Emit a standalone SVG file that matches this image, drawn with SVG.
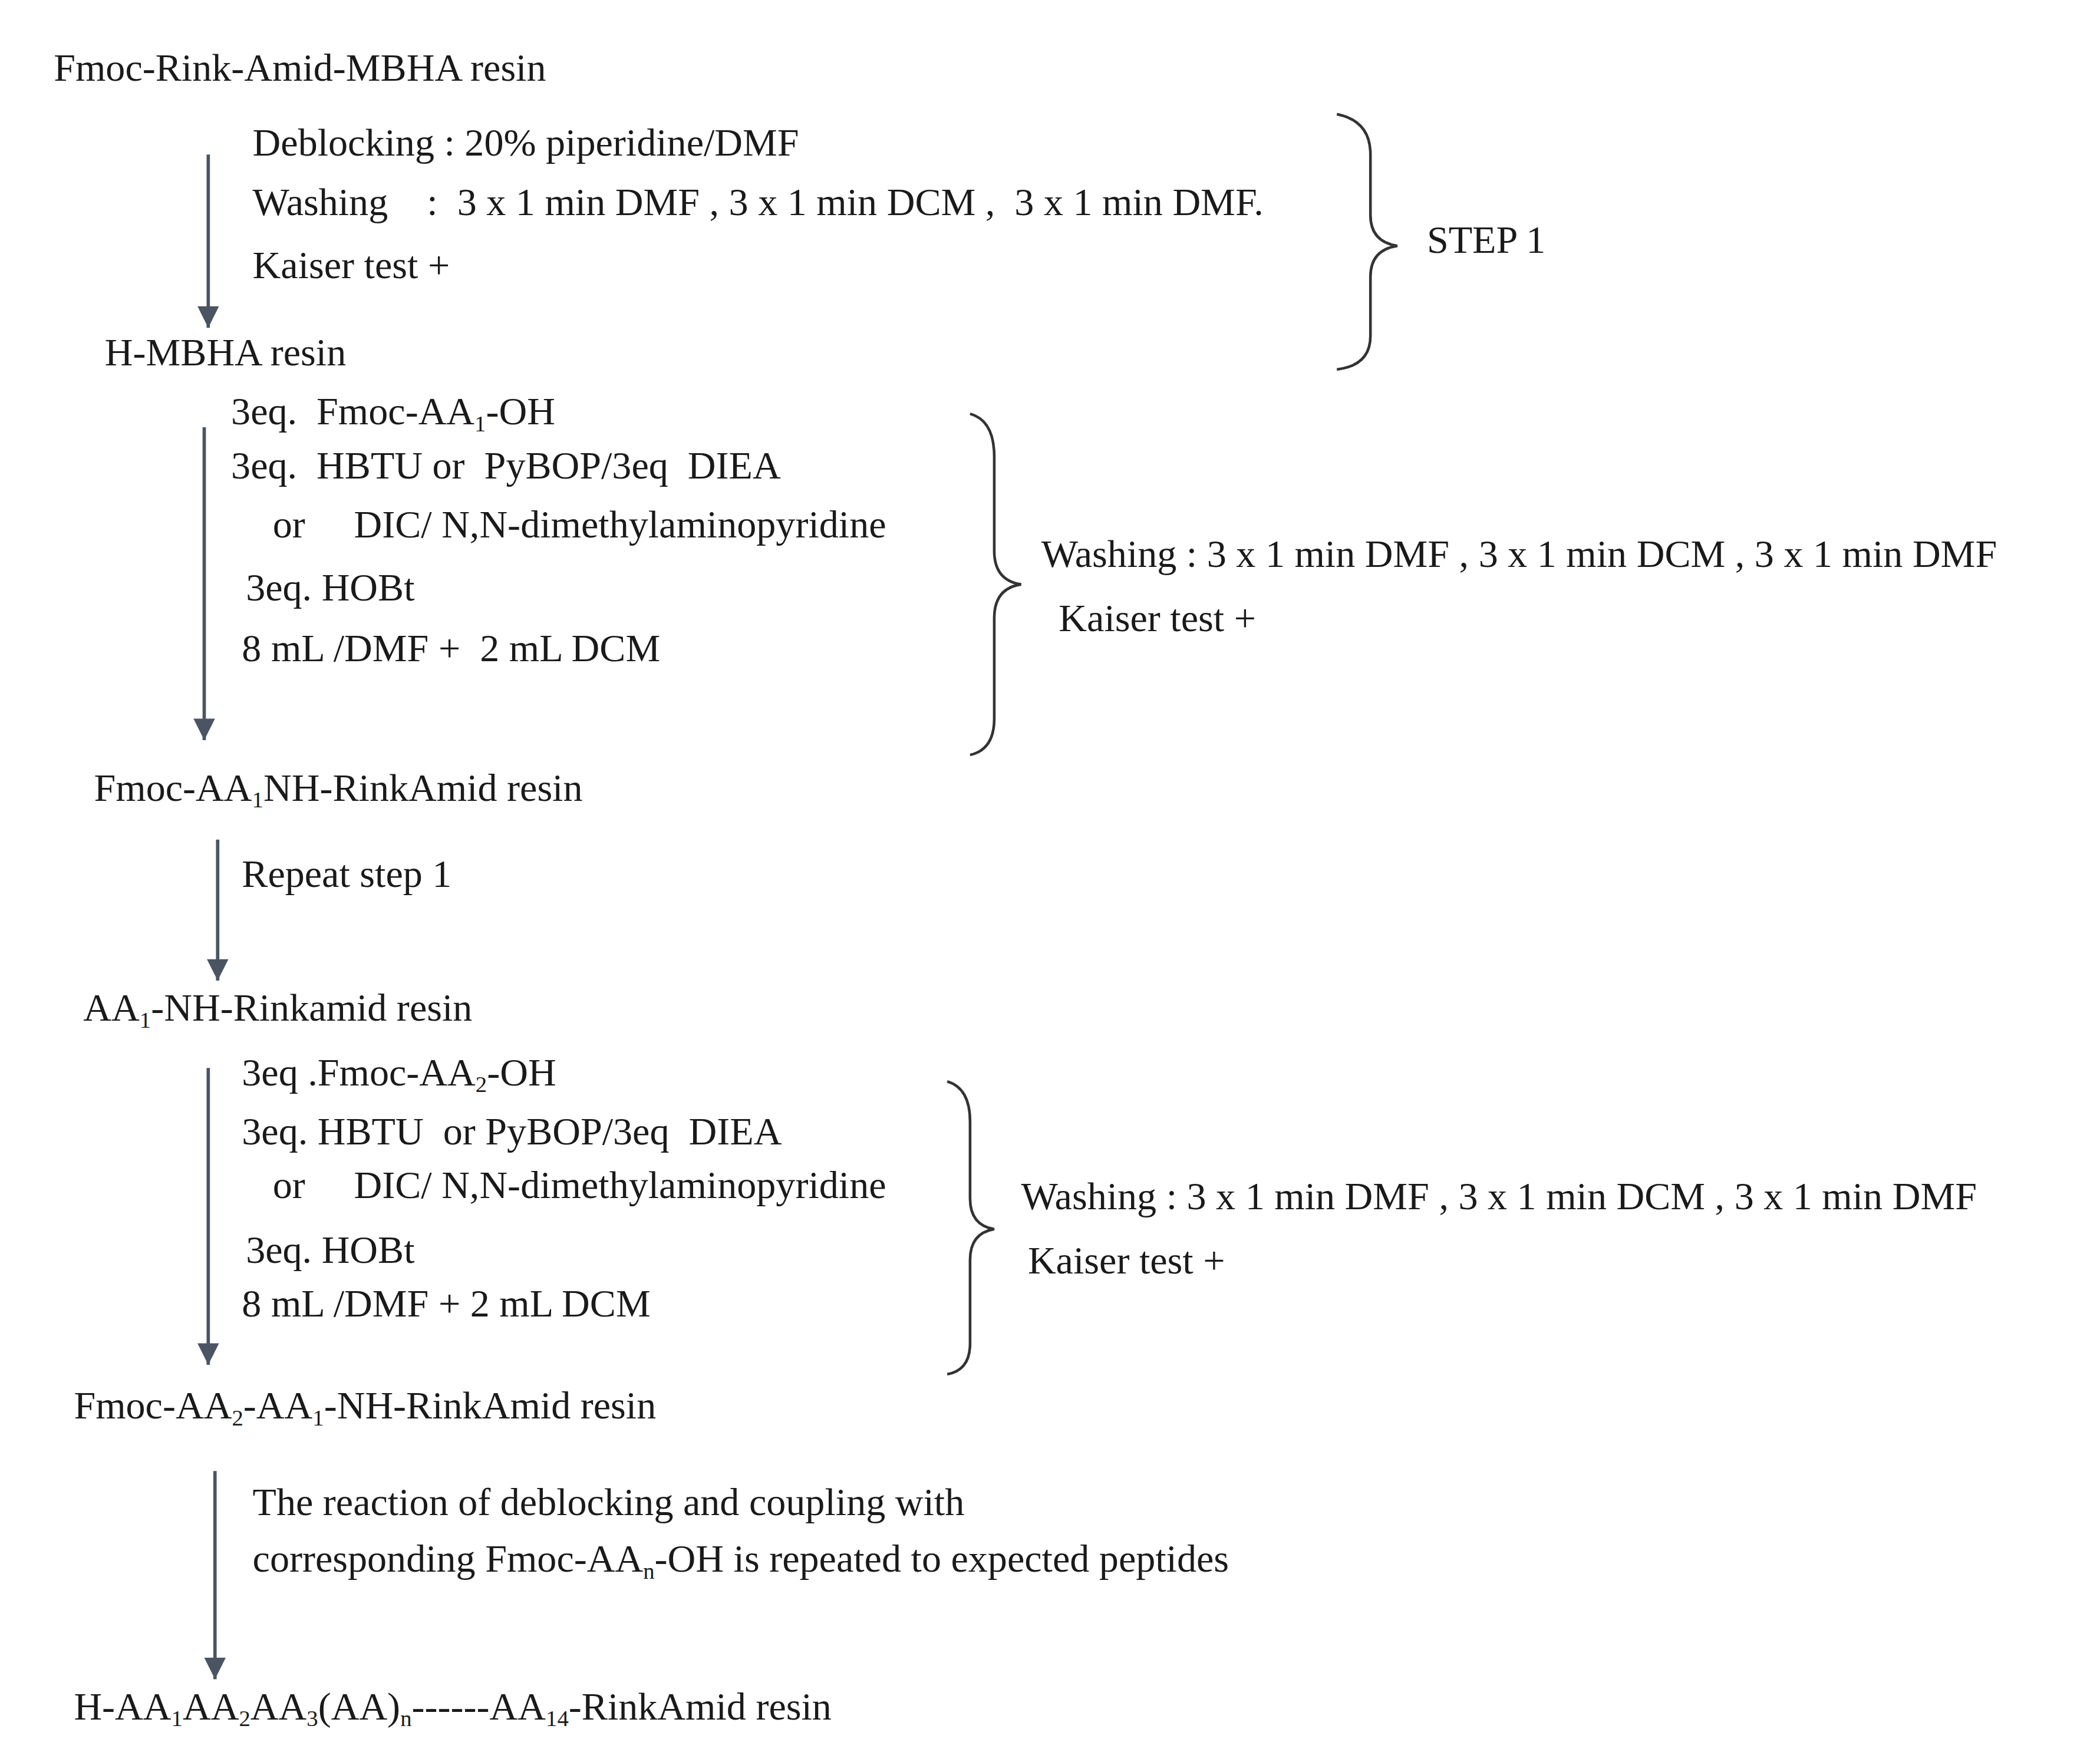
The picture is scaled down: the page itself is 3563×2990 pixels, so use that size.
<svg xmlns="http://www.w3.org/2000/svg" width="3563" height="2990" viewBox="0 0 3563 2990">
<defs>
<style>
text{font-family:"Liberation Serif","Times New Roman",serif;font-size:29px;fill:#1a1a1a}
.s{font-size:17px}
.ar{stroke:#4a5463;stroke-width:2.5;fill:none}
.br{stroke:#333;stroke-width:2;fill:none}
</style>
<marker id="ah" viewBox="0 0 10 10" refX="9" refY="5" markerWidth="6" markerHeight="7" orient="auto" markerUnits="userSpaceOnUse">
<path d="M0,0 L10,5 L0,10 z" fill="#4a5463" transform="scale(1)"/>
</marker>
<marker id="a2" viewBox="0 0 10 10" refX="10" refY="5" markerWidth="18" markerHeight="16" orient="auto" markerUnits="userSpaceOnUse">
<path d="M0,0 L10,5 L0,10 z" fill="#4a5463"/>
</marker>
</defs>
<rect width="3563" height="2990" fill="#fff"/>
<g transform="scale(2.2796)">
<g id="connectors">
<line class="ar" x1="155" y1="115" x2="155" y2="244" marker-end="url(#a2)"/>
<line class="ar" x1="152" y1="318" x2="152" y2="551" marker-end="url(#a2)"/>
<line class="ar" x1="162" y1="625" x2="162" y2="730" marker-end="url(#a2)"/>
<line class="ar" x1="155" y1="795" x2="155" y2="1016" marker-end="url(#a2)"/>
<line class="ar" x1="160" y1="1095" x2="160" y2="1250" marker-end="url(#a2)"/>
<path class="br" d="M995,85 Q1020,90 1020,115 L1020,160 Q1020,180 1040,183 Q1020,186 1020,206 L1020,250 Q1020,272 995,275"/>
<path class="br" d="M722,308 Q740,313 740,340 L740,410 Q740,432 760,435 Q740,438 740,460 L740,535 Q740,558 722,562"/>
<path class="br" d="M705,805 Q722,810 722,835 L722,892 Q722,912 740,915 Q722,918 722,938 L722,1000 Q722,1020 705,1023"/>
</g>
<g id="n1"><text x="40" y="60">Fmoc-Rink-Amid-MBHA resin</text></g>
<g id="step1">
<text x="188" y="116">Deblocking : 20% piperidine/DMF</text>
<text x="188" y="160" xml:space="preserve">Washing    :  3 x 1 min DMF , 3 x 1 min DCM ,  3 x 1 min DMF.</text>
<text x="188" y="207">Kaiser test  +</text>
<text x="1062" y="188">STEP 1</text>
</g>
<g id="n2"><text x="78" y="272">H-MBHA resin</text></g>
<g id="coupling1">
<text x="172" y="316" xml:space="preserve">3eq.  Fmoc-AA<tspan class="s" dy="5">1</tspan><tspan dy="-5">-OH</tspan></text>
<text x="172" y="356" xml:space="preserve">3eq.  HBTU or  PyBOP/3eq  DIEA</text>
<text x="203" y="400" xml:space="preserve">or     DIC/ N,N-dimethylaminopyridine</text>
<text x="183" y="447">3eq. HOBt</text>
<text x="180" y="492" xml:space="preserve">8 mL /DMF +  2 mL DCM</text>
<text x="775" y="422">Washing : 3 x 1 min DMF , 3 x 1 min DCM , 3 x 1 min DMF</text>
<text x="788" y="470">Kaiser test  +</text>
</g>
<g id="n3"><text x="70" y="596">Fmoc-AA<tspan class="s" dy="5">1</tspan><tspan dy="-5">NH-RinkAmid resin</tspan></text></g>
<g id="repeat"><text x="180" y="660">Repeat step 1</text></g>
<g id="n4"><text x="62" y="760">AA<tspan class="s" dy="5">1</tspan><tspan dy="-5">-NH-Rinkamid resin</tspan></text></g>
<g id="coupling2">
<text x="180" y="808">3eq .Fmoc-AA<tspan class="s" dy="5">2</tspan><tspan dy="-5">-OH</tspan></text>
<text x="180" y="852" xml:space="preserve">3eq. HBTU  or PyBOP/3eq  DIEA</text>
<text x="203" y="892" xml:space="preserve">or     DIC/ N,N-dimethylaminopyridine</text>
<text x="183" y="940">3eq. HOBt</text>
<text x="180" y="980">8 mL /DMF + 2 mL DCM</text>
<text x="760" y="900">Washing : 3 x 1 min DMF , 3 x 1 min DCM , 3 x 1 min DMF</text>
<text x="765" y="948">Kaiser test  +</text>
</g>
<g id="n5"><text x="55" y="1056">Fmoc-AA<tspan class="s" dy="5">2</tspan><tspan dy="-5">-AA</tspan><tspan class="s" dy="5">1</tspan><tspan dy="-5">-NH-RinkAmid resin</tspan></text></g>
<g id="repeatn">
<text x="188" y="1128">The reaction of deblocking and coupling with</text>
<text x="188" y="1170">corresponding Fmoc-AA<tspan class="s" dy="5">n</tspan><tspan dy="-5">-OH is repeated to expected peptides</tspan></text>
</g>
<g id="n6"><text x="55" y="1280">H-AA<tspan class="s" dy="5">1</tspan><tspan dy="-5">AA</tspan><tspan class="s" dy="5">2</tspan><tspan dy="-5">AA</tspan><tspan class="s" dy="5">3</tspan><tspan dy="-5">(AA)</tspan><tspan class="s" dy="5">n</tspan><tspan dy="-5">------AA</tspan><tspan class="s" dy="5">14</tspan><tspan dy="-5">-RinkAmid resin</tspan></text></g>
</g>
</svg>
